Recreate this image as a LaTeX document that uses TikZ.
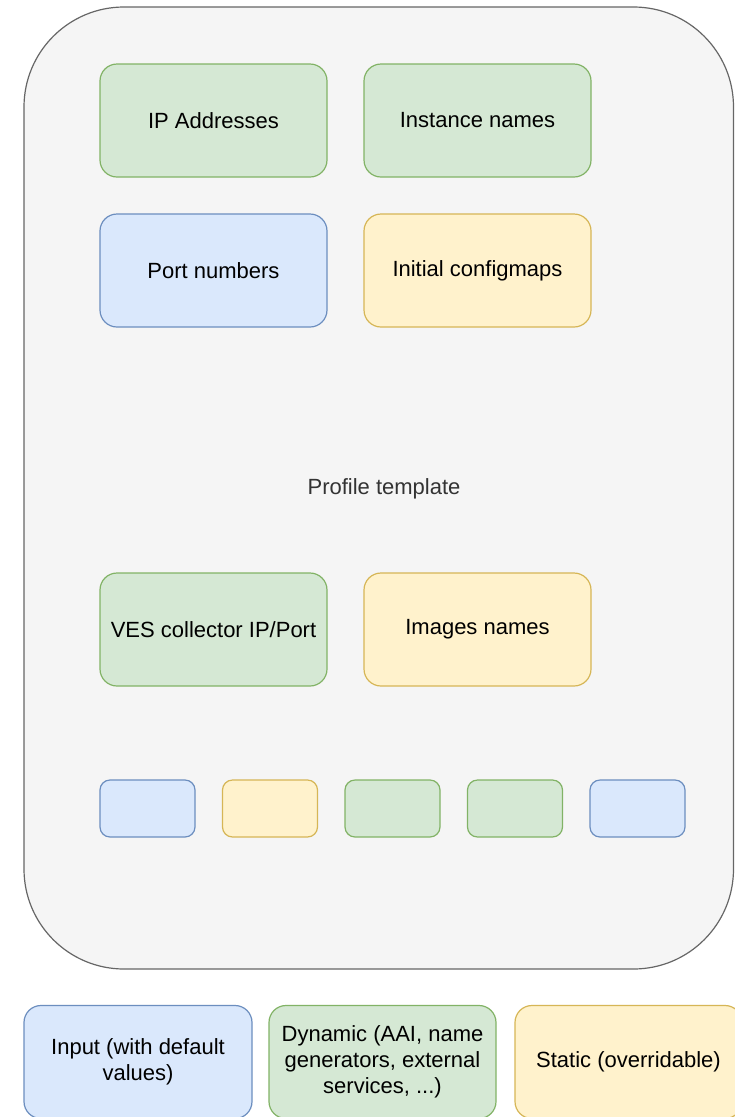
\documentclass[tikz,border=0pt]{standalone}
\usepackage{fontspec}
\setsansfont{Liberation Sans}
\usetikzlibrary{positioning}
\definecolor{inputfill}{HTML}{DAE8FC}
\definecolor{inputline}{HTML}{6C8EBF}
\definecolor{dynfill}{HTML}{D5E8D4}
\definecolor{dynline}{HTML}{82B366}
\definecolor{statfill}{HTML}{FFF2CC}
\definecolor{statline}{HTML}{D6B656}
\definecolor{tplfill}{HTML}{F5F5F5}
\definecolor{tplline}{HTML}{666666}
\definecolor{tpltext}{HTML}{333333}
\tikzset{every picture/.style={/utils/exec={\sffamily}}}
\tikzset{field/.style={draw, rounded corners=17pt, line width=1.2pt, inner sep=0pt,
    minimum width=227pt, minimum height=113pt, align=center,
    font=\fontsize{22}{26}\selectfont}}
\tikzset{input/.style={field, fill=inputfill, draw=inputline}}
\tikzset{dynamic/.style={field, fill=dynfill, draw=dynline}}
\tikzset{static/.style={field, fill=statfill, draw=statline}}
\tikzset{swatch/.style={minimum width=95pt, minimum height=57pt, rounded corners=10pt}}

\begin{document}
\begin{tikzpicture}[x=1pt, y=-1pt]
    \useasboundingbox (0,0) rectangle (734,1117);
    \fill [white] (0,0) rectangle (734,1117);
    % profile template frame
    \draw [tplline, fill=tplfill, line width=1.2pt, rounded corners=100pt] (24,7) rectangle (733.5,969);
    \node [tpltext, font=\fontsize{22}{26}\selectfont] (tpl) at (384,489) {Profile template};
    \node [dynamic] (ip) at (213.5,120.5) {IP Addresses};
    \node [dynamic] (inst) at (477.5,120.5) {Instance names};
    \node [input] (port) at (213.5,270.5) {Port numbers};
    \node [static] (cfg) at (477.5,270.5) {Initial configmaps};
    \node [dynamic] (ves) at (213.5,629.5) {VES collector IP/Port};
    \node [static] (img) at (477.5,629.5) {Images names};
    \foreach \kind [count=\i] in {input,static,dynamic,dynamic,input} {
        \node [\kind, swatch] (slot\i) at ({147.5+122.5*(\i-1)},808.5) {};
    }
    % legend
    \node [input, minimum width=228pt] (leginput) at (138,1062) {Input (with default\\values)};
    \node [dynamic] (legdyn) at (382.5,1062) {Dynamic (AAI, name\\generators, external\\services, ...)};
    \node [static] (legstat) at (628.5,1062) {Static (overridable)};
\end{tikzpicture}
\end{document}
